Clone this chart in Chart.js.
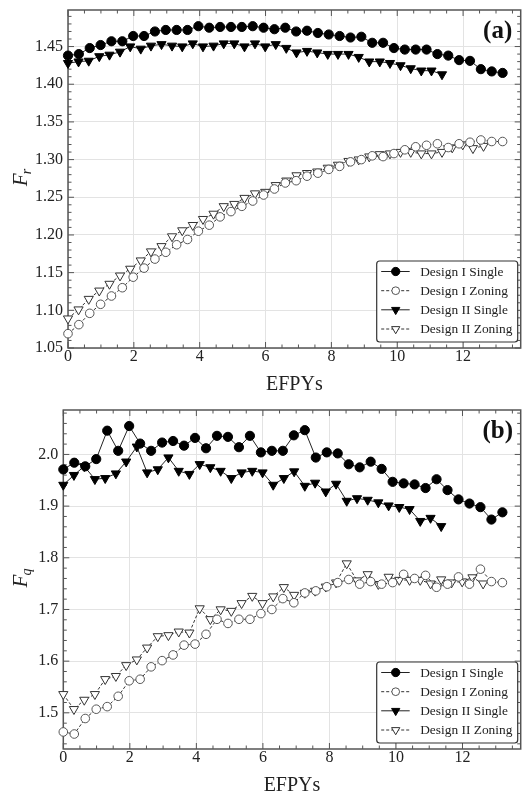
<!DOCTYPE html>
<html><head><meta charset="utf-8">
<script src="https://cdn.jsdelivr.net/npm/chart.js@4.4.1/dist/chart.umd.min.js"></script>
<style>
html,body{margin:0;padding:0;background:#fff;width:527px;height:794px;overflow:hidden}
.box{position:absolute;left:0;width:527px;height:397px}
canvas{display:block}
</style></head><body>
<div class="box" style="top:0"><canvas id="ca" width="527" height="397"></canvas></div>
<div class="box" style="top:397px"><canvas id="cb" width="527" height="397"></canvas></div>
<script>
// ---------- data ----------
const seriesNames = ['Design I Single','Design I Zoning','Design II Single','Design II Zoning'];
const xTicks = [0,2,4,6,8,10,12];
const frTicks = [1.05,1.10,1.15,1.20,1.25,1.30,1.35,1.40,1.45];
const fqTicks = [1.5,1.6,1.7,1.8,1.9,2.0];

const efpyI = [0,0.33,0.66,0.99,1.32,1.65,1.98,2.31,2.64,2.97,3.30,3.63,3.96,4.29,4.62,4.95,5.28,5.61,5.94,6.27,6.60,6.93,7.26,7.59,7.92,8.25,8.58,8.91,9.24,9.57,9.90,10.23,10.56,10.89,11.22,11.55,11.88,12.21,12.54,12.87,13.20];
const efpyII = [0,0.32,0.63,0.95,1.26,1.58,1.89,2.21,2.52,2.84,3.16,3.47,3.79,4.10,4.42,4.73,5.05,5.36,5.68,5.99,6.31,6.63,6.94,7.26,7.57,7.89,8.20,8.52,8.83,9.15,9.47,9.78,10.10,10.41,10.73,11.04,11.36,11.67,11.99,12.30,12.62];

// (a) Fr
const frISingle = [1.438,1.440,1.448,1.452,1.457,1.457,1.464,1.464,1.470,1.472,1.472,1.472,1.477,1.475,1.476,1.476,1.476,1.477,1.475,1.473,1.475,1.470,1.471,1.468,1.466,1.464,1.462,1.463,1.455,1.455,1.448,1.446,1.446,1.446,1.440,1.438,1.432,1.431,1.420,1.417,1.415];
const frIZoning = [1.069,1.081,1.096,1.108,1.119,1.130,1.144,1.156,1.168,1.177,1.187,1.194,1.205,1.213,1.224,1.231,1.238,1.245,1.253,1.261,1.269,1.272,1.278,1.282,1.287,1.291,1.297,1.300,1.305,1.304,1.308,1.313,1.317,1.319,1.321,1.316,1.321,1.323,1.326,1.324,1.324];
const frIISingle = [1.428,1.430,1.431,1.437,1.439,1.443,1.450,1.447,1.451,1.453,1.451,1.450,1.454,1.450,1.451,1.454,1.454,1.450,1.454,1.450,1.453,1.448,1.442,1.444,1.442,1.440,1.440,1.440,1.436,1.430,1.430,1.428,1.425,1.421,1.418,1.418,1.413];
const frIIZoning = [1.089,1.101,1.115,1.126,1.135,1.146,1.155,1.166,1.178,1.185,1.198,1.206,1.213,1.221,1.228,1.238,1.241,1.249,1.255,1.257,1.266,1.272,1.279,1.282,1.284,1.289,1.293,1.298,1.300,1.304,1.307,1.308,1.310,1.310,1.308,1.308,1.310,1.316,1.320,1.315,1.318];

// (b) Fq
const fqISingle = [1.971,1.984,1.977,1.991,2.046,2.007,2.055,2.021,2.007,2.023,2.026,2.017,2.032,2.012,2.036,2.034,2.014,2.036,2.004,2.007,2.007,2.037,2.047,1.994,2.004,2.002,1.981,1.975,1.986,1.972,1.947,1.944,1.942,1.935,1.952,1.931,1.913,1.905,1.898,1.874,1.888];
const fqIZoning = [1.463,1.459,1.489,1.507,1.512,1.532,1.562,1.565,1.589,1.601,1.612,1.631,1.633,1.652,1.681,1.673,1.681,1.681,1.692,1.700,1.721,1.713,1.732,1.736,1.744,1.752,1.758,1.749,1.754,1.749,1.752,1.768,1.760,1.766,1.743,1.749,1.763,1.749,1.778,1.754,1.752];
const fqIISingle = [1.941,1.960,1.977,1.952,1.954,1.963,1.986,2.015,1.965,1.971,1.994,1.968,1.962,1.981,1.975,1.968,1.954,1.965,1.968,1.965,1.941,1.954,1.967,1.939,1.945,1.928,1.943,1.910,1.915,1.912,1.907,1.901,1.898,1.894,1.871,1.877,1.861];
const fqIIZoning = [1.536,1.507,1.525,1.536,1.565,1.571,1.592,1.603,1.626,1.648,1.650,1.657,1.655,1.702,1.681,1.700,1.697,1.712,1.726,1.712,1.725,1.743,1.728,1.732,1.736,1.744,1.752,1.789,1.756,1.768,1.749,1.763,1.757,1.757,1.757,1.750,1.758,1.752,1.754,1.762,1.750];

// ---------- styles ----------
const SERIF = '"Liberation Serif","Times New Roman",serif';
const styles = [
  {pointStyle:'circle',   rotation:0,   radius:4.6, fill:'#000', stroke:'#000', dash:[],    line:'#222'},
  {pointStyle:'circle',   rotation:0,   radius:4.3, fill:'#fff', stroke:'#555', dash:[3,2], line:'#333'},
  {pointStyle:'triangle', rotation:180, radius:5.3, fill:'#000', stroke:'#000', dash:[],    line:'#222'},
  {pointStyle:'triangle', rotation:180, radius:5.3, fill:'#fff', stroke:'#333', dash:[3,2], line:'#333'}
];

function pts(xs, ys){ return ys.map((y,i)=>({x:xs[i], y:y})); }

function drawMarker(ctx, st, x, y){
  ctx.save();
  ctx.fillStyle = st.fill; ctx.strokeStyle = st.stroke; ctx.lineWidth = 1; ctx.setLineDash([]);
  ctx.beginPath();
  if (st.pointStyle === 'circle'){
    ctx.arc(x, y, st.radius, 0, Math.PI*2);
  } else {
    const r = st.radius;
    ctx.moveTo(x - r*0.866, y - r*0.5);
    ctx.lineTo(x + r*0.866, y - r*0.5);
    ctx.lineTo(x, y + r);
    ctx.closePath();
  }
  ctx.fill(); ctx.stroke();
  ctx.restore();
}

function makePanel(id, cfg){
  const H = 397;
  const datasets = cfg.series.map((s,k)=>{
    const st = styles[k];
    return {
      label: seriesNames[k],
      data: pts(s.x, s.y),
      borderColor: st.line, borderWidth: 1, borderDash: st.dash,
      pointStyle: st.pointStyle, rotation: st.rotation, pointRadius: st.radius,
      pointBackgroundColor: st.fill, pointBorderColor: st.stroke, pointBorderWidth: 1,
      tension: 0, fill: false, clip: false, order: k
    };
  });
  const panelPlugin = {
    id: 'panel_'+id,
    beforeDatasetsDraw(chart){
      const {ctx, chartArea:a, scales} = chart; const x = scales.x, y = scales.y;
      ctx.save();
      ctx.strokeStyle = '#555'; ctx.lineWidth = 1;
      const seg = (x1,y1,x2,y2)=>{ctx.beginPath();ctx.moveTo(x1,y1);ctx.lineTo(x2,y2);ctx.stroke();};
      for (let i=0; i*0.5 <= 13.75+1e-9; i++){
        const v = i*0.5, px = x.getPixelForValue(v), L = (i%4===0)?6:3.5;
        seg(px,a.bottom,px,a.bottom-L); seg(px,a.top,px,a.top+L);
      }
      const start = Math.ceil(cfg.yMin/cfg.yMinor - 1e-6);
      for (let i=start; i*cfg.yMinor <= cfg.yMax+1e-9; i++){
        const v = i*cfg.yMinor, py = y.getPixelForValue(v);
        const q = v/cfg.yMajor, L = (Math.abs(q-Math.round(q))<1e-6)?6:3.5;
        seg(a.left,py,a.left+L,py); seg(a.right,py,a.right-L,py);
      }
      ctx.lineWidth = 1.5; ctx.strokeStyle = '#555';
      ctx.strokeRect(a.left, a.top, a.right-a.left, a.bottom-a.top);
      ctx.restore();
    },
    afterDatasetsDraw(chart){
      const {ctx, chartArea:a} = chart;
      ctx.save();
      // panel tag
      ctx.fillStyle = '#111'; ctx.font = 'bold 25px '+SERIF;
      ctx.textAlign = 'center'; ctx.textBaseline = 'middle';
      ctx.fillText(cfg.tag, a.right-23, a.top+22);
      // x title
      ctx.font = '20px '+SERIF; ctx.textBaseline = 'alphabetic'; ctx.fillStyle = '#222';
      ctx.fillText('EFPYs', (a.left+a.right)/2, a.bottom+41.5);
      // y title F with subscript
      ctx.save();
      ctx.translate(27, (a.top+a.bottom)/2 - 2);
      ctx.rotate(-Math.PI/2);
      ctx.font = 'italic 21px '+SERIF; ctx.textAlign = 'left';
      const wF = ctx.measureText('F').width;
      ctx.font = 'italic 14px '+SERIF;
      const wS = ctx.measureText(cfg.sub).width;
      const x0 = -(wF+wS)/2;
      ctx.font = 'italic 21px '+SERIF; ctx.fillText('F', x0, 0);
      ctx.font = 'italic 14px '+SERIF; ctx.fillText(cfg.sub, x0+wF-1, 4);
      ctx.restore();
      // legend
      const bw = 141, bh = 81, bx = a.right-3-bw, by = a.bottom-6-bh;
      ctx.beginPath();
      if (ctx.roundRect) ctx.roundRect(bx, by, bw, bh, 3); else ctx.rect(bx,by,bw,bh);
      ctx.fillStyle = '#fff'; ctx.fill();
      ctx.lineWidth = 1.2; ctx.strokeStyle = '#333'; ctx.stroke();
      const rows = [10.5, 29.7, 48.8, 68];
      ctx.font = '13.4px '+SERIF; ctx.textAlign = 'left'; ctx.textBaseline = 'middle';
      seriesNames.forEach((n,k)=>{
        const st = styles[k], ry = by + rows[k];
        ctx.save(); ctx.strokeStyle = st.line; ctx.lineWidth = 1; ctx.setLineDash(st.dash);
        ctx.beginPath(); ctx.moveTo(bx+4.5, ry); ctx.lineTo(bx+33, ry); ctx.stroke(); ctx.restore();
        drawMarker(ctx, {pointStyle:st.pointStyle, radius: st.radius*0.9, fill:st.fill, stroke:st.stroke}, bx+19, ry);
        ctx.fillStyle = '#222';
        ctx.fillText(n, bx+43.5, ry+0.5);
      });
      ctx.restore();
    }
  };
  return new Chart(document.getElementById(id), {
    type: 'line',
    data: {datasets},
    options: {
      responsive: false, animation: false, devicePixelRatio: 1,
      layout: {padding: {top: cfg.top, left: 0, right: 1, bottom: 0}},
      plugins: {legend: {display: false}, tooltip: {enabled: false}},
      scales: {
        x: {
          type: 'linear', min: 0, max: 13.75,
          afterBuildTicks: s => { s.ticks = xTicks.map(v => ({value: v})); },
          afterFit: s => { s.height = H - cfg.bottom; s.paddingLeft = 0; s.paddingRight = 0; },
          grid: {color: '#e3e3e3', lineWidth: 1, drawTicks: false},
          border: {display: false},
          ticks: {font: {family: SERIF, size: 16, lineHeight: 1}, color: '#222', padding: 1, maxRotation: 0, autoSkip: false,
                  callback: v => String(v)}
        },
        y: {
          type: 'linear', min: cfg.yMin, max: cfg.yMax,
          afterBuildTicks: s => { s.ticks = cfg.yTicks.map(v => ({value: v})); },
          afterFit: s => { s.width = cfg.left; s.paddingTop = 0; s.paddingBottom = 0; },
          grid: {color: '#e3e3e3', lineWidth: 1, drawTicks: false},
          border: {display: false},
          ticks: {font: {family: SERIF, size: 16}, color: '#222', padding: 5, autoSkip: false,
                  callback: v => Number(v).toFixed(cfg.dec)}
        }
      }
    },
    plugins: [panelPlugin]
  });
}

makePanel('ca', {
  series: [{x:efpyI,y:frISingle},{x:efpyI,y:frIZoning},{x:efpyII,y:frIISingle},{x:efpyII,y:frIIZoning}],
  yMin: 1.05, yMax: 1.4985, yTicks: frTicks, yMinor: 0.01, yMajor: 0.05, dec: 2,
  left: 68, top: 10, bottom: 348, tag: '(a)', sub: 'r'
});
makePanel('cb', {
  series: [{x:efpyI,y:fqISingle},{x:efpyI,y:fqIZoning},{x:efpyII,y:fqIISingle},{x:efpyII,y:fqIIZoning}],
  yMin: 1.43, yMax: 2.086, yTicks: fqTicks, yMinor: 0.02, yMajor: 0.1, dec: 1,
  left: 63.3, top: 13, bottom: 352, tag: '(b)', sub: 'q'
});
</script>
</body></html>
